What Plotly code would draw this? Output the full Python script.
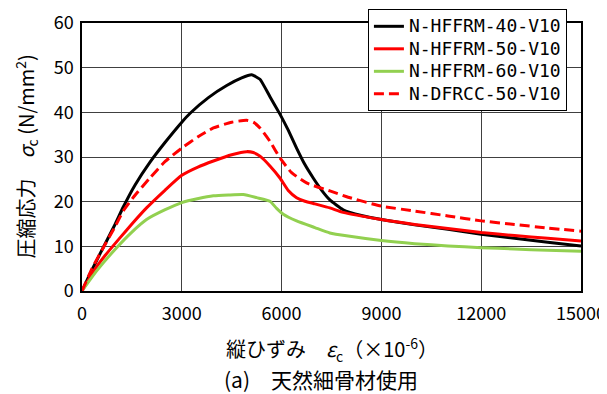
import plotly.graph_objects as go

# Data
x_40 = [0, 250, 540, 1000, 1240, 1600, 2040, 2500, 3000, 3250, 3800, 4350, 4800, 5100, 5350, 5650, 5950, 6200, 6450, 6700, 6950, 7200, 7450, 7850, 8400, 9000, 10000, 11000, 12000, 13000, 14000, 15000]
y_40 = [0, 4, 8.3, 15.0, 18.8, 23.8, 28.8, 33.3, 37.8, 39.8, 43.3, 46.0, 47.7, 48.4, 47.4, 43.5, 39.6, 36, 32, 28.3, 25.3, 22.6, 20.4, 18.2, 16.9, 16.0, 14.8, 13.8, 12.7, 11.8, 10.9, 10.1]

x_50 = [0, 400, 700, 1140, 1500, 1940, 2500, 3000, 3500, 3950, 4500, 4950, 5150, 5350, 5650, 5950, 6200, 6450, 6700, 7000, 7450, 7850, 9000, 10000, 11000, 12000, 13000, 14000, 15000]
y_50 = [0, 5, 8, 11.9, 15, 18.6, 22.6, 25.9, 27.8, 29.1, 30.5, 31.2, 31.0, 30.2, 28, 25.3, 22.5, 20.9, 20.1, 19.5, 18.6, 17.6, 16.0, 14.9, 14.0, 13.1, 12.4, 11.8, 11.2]

x_60 = [0, 440, 1040, 1500, 1940, 2500, 3000, 3500, 3950, 4400, 4850, 5250, 5650, 5850, 6050, 6450, 7000, 7450, 8000, 9000, 10000, 11000, 12000, 13000, 14000, 15000]
y_60 = [0, 4.5, 9.7, 13.2, 16.0, 18.2, 19.8, 20.7, 21.3, 21.5, 21.6, 20.9, 20.1, 18.5, 17.2, 15.7, 14.2, 13.0, 12.3, 11.3, 10.6, 10.1, 9.7, 9.4, 9.1, 8.9]

x_dfrcc = [0, 300, 640, 1000, 1240, 1600, 2040, 2500, 3000, 3500, 3950, 4500, 4950, 5150, 5350, 5650, 5950, 6300, 6750, 7450, 8000, 9000, 10000, 11000, 12000, 13000, 14000, 15000]
y_dfrcc = [0, 5, 9.7, 14.5, 17.9, 21.5, 25.3, 29, 32, 34.6, 36.5, 37.8, 38.2, 37.8, 36.5, 33.5, 29.8, 26.5, 24.2, 22.4, 21.0, 19.0, 17.9, 16.8, 15.7, 14.9, 14.1, 13.4]

names = ["N-HFFRM-40-V10", "N-HFFRM-50-V10", "N-HFFRM-60-V10", "N-DFRCC-50-V10"]
x_ticks = [0, 3000, 6000, 9000, 12000, 15000]
y_ticks = [0, 10, 20, 30, 40, 50, 60]

FONT = "Noto Sans CJK JP"
LEG_FONT = "DejaVu Sans Mono"


def leg(name):
    return "<span style='font-size:18px'>" + name + "</span>"


fig = go.Figure()
fig.add_trace(go.Scatter(x=x_40, y=y_40, name=leg(names[0]), mode="lines",
                         line=dict(color="#000000", width=3, shape="spline", smoothing=0.4)))
fig.add_trace(go.Scatter(x=x_50, y=y_50, name=leg(names[1]), mode="lines",
                         line=dict(color="#FF0000", width=3, shape="spline", smoothing=0.5)))
fig.add_trace(go.Scatter(x=x_60, y=y_60, name=leg(names[2]), mode="lines",
                         line=dict(color="#92D050", width=3, shape="spline", smoothing=0.5)))
fig.add_trace(go.Scatter(x=x_dfrcc, y=y_dfrcc, name=leg(names[3]), mode="lines",
                         line=dict(color="#FF0000", width=3, dash="10px,5px", shape="spline", smoothing=0.5)))

# The page body has an 8px margin, so the figure is drawn 8px smaller and offset.
fig.update_layout(
    width=599, height=386,
    margin=dict(l=74, r=26, t=15, b=103, autoexpand=False),
    paper_bgcolor="white", plot_bgcolor="white",
    font=dict(family=FONT, size=17, color="#000000"),
    showlegend=True,
    legend=dict(x=0.573, y=1.052, xanchor="left", yanchor="top",
                bgcolor="white", bordercolor="#000000", borderwidth=1,
                font=dict(family=LEG_FONT, size=15), tracegroupgap=0,
                itemwidth=30),
    xaxis=dict(range=[0, 15000], tickvals=x_ticks, ticktext=[str(v) for v in x_ticks],
               showgrid=True, gridcolor="#404040", gridwidth=1,
               showline=True, linecolor="#000000", linewidth=1.5, mirror=True,
               ticks="", zeroline=False, ticklabelstandoff=6, ticklabeloverflow="allow",
               tickfont=dict(family=FONT, size=18)),
    yaxis=dict(range=[0, 60], tickvals=y_ticks, ticktext=[str(v) for v in y_ticks],
               showgrid=True, gridcolor="#404040", gridwidth=1,
               showline=True, linecolor="#000000", linewidth=1.5, mirror=True,
               ticks="", zeroline=False, ticklabelstandoff=3, ticklabeloverflow="allow",
               tickfont=dict(family=FONT, size=18)),
    annotations=[
        dict(text="縦ひずみ　<i>ε</i><sub>c</sub>（×10<sup>-6</sup>）", xref="paper", yref="paper",
             x=0.5, y=-0.22, xanchor="center", yanchor="middle", showarrow=False,
             font=dict(size=20)),
        dict(text="(a)　天然細骨材使用", xref="paper", yref="paper",
             x=0.478, y=-0.328, xanchor="center", yanchor="middle", showarrow=False,
             font=dict(size=21)),
        dict(text="圧縮応力　<i>σ</i><sub>c</sub> (N/mm<sup>2</sup>)", xref="paper", yref="paper",
             x=-0.113, y=0.5, xanchor="center", yanchor="middle", showarrow=False,
             textangle=-90, font=dict(size=20)),
    ],
)

fig.write_html("out.html")
